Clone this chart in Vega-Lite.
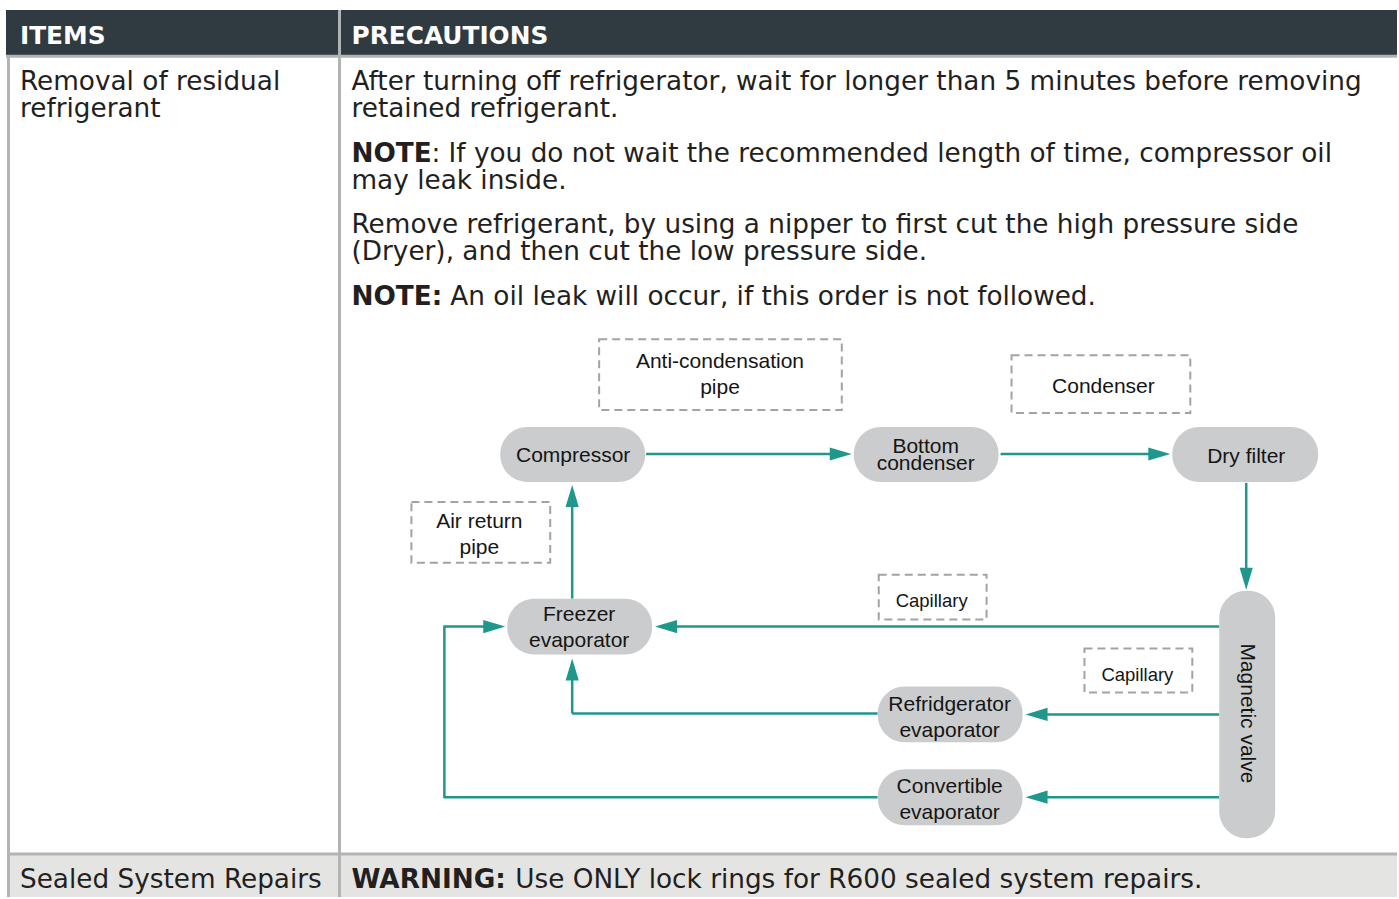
{
  "$schema": "https://vega.github.io/schema/vega-lite/v6.json",
  "width": 1399,
  "height": 899,
  "padding": 0,
  "autosize": {"type": "fit", "contains": "padding"},
  "background": "white",
  "config": {"view": {"stroke": null}},
  "datasets": {
    "panels": [
      {"part": "header", "x": 6, "x2": 1399, "y": 10, "y2": 55},
      {"part": "footer", "x": 8, "x2": 1399, "y": 857, "y2": 899}
    ],
    "borders": [
      {"x": 6, "x2": 1399, "y": 56.5, "y2": 56.5},
      {"x": 8.5, "x2": 8.5, "y": 56, "y2": 899},
      {"x": 340, "x2": 340, "y": 10, "y2": 899},
      {"x": 8, "x2": 1399, "y": 856, "y2": 856}
    ],
    "boxes": [
      {"name": "Anti-condensation pipe", "x": 600, "x2": 843, "y": 340, "y2": 411},
      {"name": "Condenser", "x": 1013, "x2": 1192, "y": 356, "y2": 414},
      {"name": "Air return pipe", "x": 412, "x2": 551, "y": 503, "y2": 564},
      {"name": "Capillary A", "x": 880, "x2": 988, "y": 576, "y2": 621},
      {"name": "Capillary B", "x": 1086, "x2": 1194, "y": 650, "y2": 694}
    ],
    "pills": [
      {"name": "Compressor", "x": 501, "x2": 646, "y": 428, "y2": 483},
      {"name": "Bottom condenser", "x": 855, "x2": 1000, "y": 428, "y2": 483},
      {"name": "Dry filter", "x": 1174, "x2": 1320, "y": 428, "y2": 483},
      {"name": "Freezer evaporator", "x": 508, "x2": 653, "y": 600, "y2": 656},
      {"name": "Refridgerator evaporator", "x": 879, "x2": 1024, "y": 688, "y2": 744},
      {"name": "Convertible evaporator", "x": 879, "x2": 1024, "y": 771, "y2": 827},
      {"name": "Magnetic valve", "x": 1221, "x2": 1277, "y": 592, "y2": 840}
    ],
    "pipes": [
      {"x": 647, "y": 455, "x2": 845, "y2": 455},
      {"x": 1002, "y": 455, "x2": 1162, "y2": 455},
      {"x": 1248, "y": 484, "x2": 1248, "y2": 581},
      {"x": 1221, "y": 628, "x2": 664, "y2": 628},
      {"x": 1221, "y": 716, "x2": 1035, "y2": 716},
      {"x": 1221, "y": 799, "x2": 1035, "y2": 799},
      {"x": 879, "y": 715, "x2": 573, "y2": 715},
      {"x": 573, "y": 715, "x2": 573, "y2": 668},
      {"x": 879, "y": 799, "x2": 445, "y2": 799},
      {"x": 445, "y": 800, "x2": 445, "y2": 628},
      {"x": 444, "y": 628, "x2": 498, "y2": 628},
      {"x": 573, "y": 600, "x2": 573, "y2": 494}
    ],
    "heads": [
      {"x": 853, "y": 455, "dir": "right"},
      {"x": 1172, "y": 455, "dir": "right"},
      {"x": 1248, "y": 591, "dir": "down"},
      {"x": 656, "y": 628, "dir": "left"},
      {"x": 1027, "y": 716, "dir": "left"},
      {"x": 1027, "y": 799, "dir": "left"},
      {"x": 573, "y": 660, "dir": "up"},
      {"x": 506, "y": 628, "dir": "right"},
      {"x": 573, "y": 486, "dir": "up"}
    ],
    "labels": [
      {"role": "head", "x": 20, "y": 36, "text": "ITEMS"},
      {"role": "head", "x": 352, "y": 36, "text": "PRECAUTIONS"},
      {"role": "body", "x": 20, "y": 81, "text": "Removal of residual"},
      {"role": "body", "x": 20, "y": 108, "text": "refrigerant"},
      {"role": "body", "x": 352, "y": 81, "text": "After turning off refrigerator, wait for longer than 5 minutes before removing"},
      {"role": "body", "x": 352, "y": 108, "text": "retained refrigerant."},
      {"role": "bold", "x": 352, "y": 153, "text": "NOTE"},
      {"role": "body", "x": 432, "y": 153, "text": ": If you do not wait the recommended length of time, compressor oil"},
      {"role": "body", "x": 352, "y": 180, "text": "may leak inside."},
      {"role": "body", "x": 352, "y": 225, "text": "Remove refrigerant, by using a nipper to first cut the high pressure side"},
      {"role": "body", "x": 352, "y": 252, "text": "(Dryer), and then cut the low pressure side."},
      {"role": "bold", "x": 352, "y": 297, "text": "NOTE:"},
      {"role": "body", "x": 451, "y": 297, "text": "An oil leak will occur, if this order is not followed."},
      {"role": "body", "x": 20, "y": 881, "text": "Sealed System Repairs"},
      {"role": "bold", "x": 352, "y": 881, "text": "WARNING:"},
      {"role": "body", "x": 516, "y": 881, "text": "Use ONLY lock rings for R600 sealed system repairs."},
      {"role": "node", "x": 721, "y": 361, "text": "Anti-condensation"},
      {"role": "node", "x": 721, "y": 387, "text": "pipe"},
      {"role": "node", "x": 1105, "y": 386, "text": "Condenser"},
      {"role": "node", "x": 480, "y": 521, "text": "Air return"},
      {"role": "node", "x": 480, "y": 547, "text": "pipe"},
      {"role": "small", "x": 933, "y": 600, "text": "Capillary"},
      {"role": "small", "x": 1139, "y": 674, "text": "Capillary"},
      {"role": "node", "x": 574, "y": 455, "text": "Compressor"},
      {"role": "node", "x": 927, "y": 446, "text": "Bottom"},
      {"role": "node", "x": 927, "y": 463, "text": "condenser"},
      {"role": "node", "x": 1248, "y": 456, "text": "Dry filter"},
      {"role": "node", "x": 580, "y": 614, "text": "Freezer"},
      {"role": "node", "x": 580, "y": 640, "text": "evaporator"},
      {"role": "node", "x": 951, "y": 705, "text": "Refridgerator"},
      {"role": "node", "x": 951, "y": 731, "text": "evaporator"},
      {"role": "node", "x": 951, "y": 787, "text": "Convertible"},
      {"role": "node", "x": 951, "y": 813, "text": "evaporator"},
      {"role": "vertical", "x": 1249, "y": 716, "text": "Magnetic valve"}
    ]
  },
  "encoding": {
    "x": {"field": "x", "type": "quantitative", "scale": {"domain": [0, 1399], "nice": false, "zero": false}, "axis": null},
    "y": {"field": "y", "type": "quantitative", "scale": {"domain": [0, 899], "nice": false, "zero": false, "reverse": true}, "axis": null}
  },
  "layer": [
    {
      "data": {"name": "panels"},
      "mark": {"type": "rect"},
      "encoding": {
        "x2": {"field": "x2"},
        "y2": {"field": "y2"},
        "color": {"field": "part", "type": "nominal", "scale": {"domain": ["header", "footer"], "range": ["#2f3a41", "#e4e5e3"]}, "legend": null}
      }
    },
    {
      "data": {"name": "borders"},
      "mark": {"type": "rule", "color": "#b1b3b5", "strokeWidth": 3},
      "encoding": {"x2": {"field": "x2"}, "y2": {"field": "y2"}}
    },
    {
      "data": {"name": "boxes"},
      "mark": {"type": "rect", "fill": null, "fillOpacity": 0, "stroke": "#a3a3a3", "strokeWidth": 2, "strokeDash": [8, 5]},
      "encoding": {"x2": {"field": "x2"}, "y2": {"field": "y2"}}
    },
    {
      "data": {"name": "pipes"},
      "mark": {"type": "rule", "color": "#1f978b", "strokeWidth": 2.5},
      "encoding": {"x2": {"field": "x2"}, "y2": {"field": "y2"}}
    },
    {
      "data": {"name": "heads"},
      "mark": {"type": "point", "filled": true, "opacity": 1, "size": 484, "strokeWidth": 0},
      "encoding": {
        "shape": {"field": "dir", "type": "nominal", "scale": {"domain": ["right", "left", "up", "down"], "range": ["M0,0L-2,-0.6L-2,0.6Z", "M0,0L2,-0.6L2,0.6Z", "M0,0L-0.6,2L0.6,2Z", "M0,0L-0.6,-2L0.6,-2Z"]}, "legend": null},
        "color": {"value": "#1f978b"}
      }
    },
    {
      "data": {"name": "pills"},
      "mark": {"type": "rect", "color": "#cbcccd", "cornerRadius": 27},
      "encoding": {"x2": {"field": "x2"}, "y2": {"field": "y2"}}
    },
    {
      "data": {"name": "labels"},
      "transform": [{"filter": "datum.role === 'head'"}],
      "mark": {"type": "text", "align": "left", "baseline": "middle", "dy": 1, "font": "DejaVu Sans", "fontWeight": "bold", "fontSize": 24.8, "color": "white"},
      "encoding": {"text": {"field": "text"}}
    },
    {
      "data": {"name": "labels"},
      "transform": [{"filter": "datum.role === 'body'"}],
      "mark": {"type": "text", "align": "left", "baseline": "middle", "dy": 1, "font": "DejaVu Sans", "fontSize": 26.3, "color": "#231f20"},
      "encoding": {"text": {"field": "text"}}
    },
    {
      "data": {"name": "labels"},
      "transform": [{"filter": "datum.role === 'bold'"}],
      "mark": {"type": "text", "align": "left", "baseline": "middle", "dy": 1, "font": "DejaVu Sans", "fontWeight": "bold", "fontSize": 26.3, "color": "#231f20"},
      "encoding": {"text": {"field": "text"}}
    },
    {
      "data": {"name": "labels"},
      "transform": [{"filter": "datum.role === 'node'"}],
      "mark": {"type": "text", "align": "center", "baseline": "middle", "dy": 2, "font": "Liberation Sans", "fontSize": 21, "color": "#151515"},
      "encoding": {"text": {"field": "text"}}
    },
    {
      "data": {"name": "labels"},
      "transform": [{"filter": "datum.role === 'small'"}],
      "mark": {"type": "text", "align": "center", "baseline": "middle", "dy": 2, "font": "Liberation Sans", "fontSize": 18.5, "color": "#151515"},
      "encoding": {"text": {"field": "text"}}
    },
    {
      "data": {"name": "labels"},
      "transform": [{"filter": "datum.role === 'vertical'"}],
      "mark": {"type": "text", "align": "center", "baseline": "middle", "dx": -1, "font": "Liberation Sans", "fontSize": 21, "angle": 90, "color": "#151515"},
      "encoding": {"text": {"field": "text"}}
    }
  ]
}
